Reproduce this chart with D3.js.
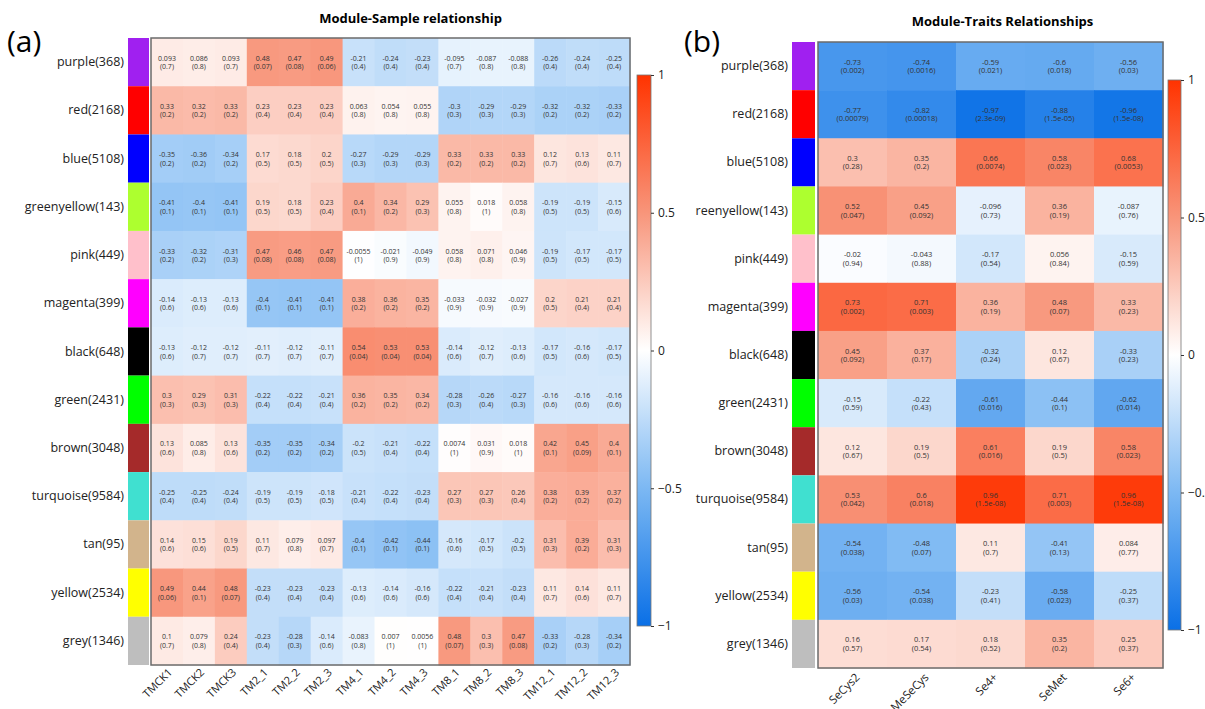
<!DOCTYPE html>
<html>
<head>
<meta charset="utf-8">
<script src="https://cdn.jsdelivr.net/npm/d3@7"></script>
<style>
  body { margin: 0; background: #fff; }
  text { font-family: "Open Sans", "Noto Sans", sans-serif; }
  .axis path, .axis line { stroke: none; }
  .cbar path { stroke: none; }
  .cbar line { stroke: #333; }
</style>
</head>
<body>
<svg id="chart" width="1205" height="709"></svg>
<script>
// ---- data ----
var modulesA = ["purple(368)", "red(2168)", "blue(5108)", "greenyellow(143)", "pink(449)", "magenta(399)",
  "black(648)", "green(2431)", "brown(3048)", "turquoise(9584)", "tan(95)", "yellow(2534)", "grey(1346)"];
var modulesB = ["purple(368)", "red(2168)", "blue(5108)", "reenyellow(143)", "pink(449)", "magenta(399)",
  "black(648)", "green(2431)", "brown(3048)", "turquoise(9584)", "tan(95)", "yellow(2534)", "grey(1346)"];
var moduleColors = ["#a020f0", "#ff0000", "#0000ff", "#adff2f", "#ffc0cb", "#ff00ff", "#000000",
  "#00ff00", "#a52a2a", "#40e0d0", "#d2b48c", "#ffff00", "#bebebe"];
var samples = ["TMCK1", "TMCK2", "TMCK3", "TM2_1", "TM2_2", "TM2_3", "TM4_1", "TM4_2", "TM4_3",
  "TM8_1", "TM8_2", "TM8_3", "TM12_1", "TM12_2", "TM12_3"];
var traits = ["SeCys2", "MeSeCys", "Se4+", "SeMet", "Se6+"];
var cbarTicks = [1, 0.5, 0, -0.5, -1];

var corA = [
  [0.093, 0.086, 0.093, 0.48, 0.47, 0.49, -0.21, -0.24, -0.23, -0.095, -0.087, -0.088, -0.26, -0.24, -0.25],
  [0.33, 0.32, 0.33, 0.23, 0.23, 0.23, 0.063, 0.054, 0.055, -0.3, -0.29, -0.29, -0.32, -0.32, -0.33],
  [-0.35, -0.36, -0.34, 0.17, 0.18, 0.2, -0.27, -0.29, -0.29, 0.33, 0.33, 0.33, 0.12, 0.13, 0.11],
  [-0.41, -0.4, -0.41, 0.19, 0.18, 0.23, 0.4, 0.34, 0.29, 0.055, 0.018, 0.058, -0.19, -0.19, -0.15],
  [-0.33, -0.32, -0.31, 0.47, 0.46, 0.47, -0.0055, -0.021, -0.049, 0.058, 0.071, 0.046, -0.19, -0.17, -0.17],
  [-0.14, -0.13, -0.13, -0.4, -0.41, -0.41, 0.38, 0.36, 0.35, -0.033, -0.032, -0.027, 0.2, 0.21, 0.21],
  [-0.13, -0.12, -0.12, -0.11, -0.12, -0.11, 0.54, 0.53, 0.53, -0.14, -0.12, -0.13, -0.17, -0.16, -0.17],
  [0.3, 0.29, 0.31, -0.22, -0.22, -0.21, 0.36, 0.35, 0.34, -0.28, -0.26, -0.27, -0.16, -0.16, -0.16],
  [0.13, 0.085, 0.13, -0.35, -0.35, -0.34, -0.2, -0.21, -0.22, 0.0074, 0.031, 0.018, 0.42, 0.45, 0.4],
  [-0.25, -0.25, -0.24, -0.19, -0.19, -0.18, -0.21, -0.22, -0.23, 0.27, 0.27, 0.26, 0.38, 0.39, 0.37],
  [0.14, 0.15, 0.19, 0.11, 0.079, 0.097, -0.4, -0.42, -0.44, -0.16, -0.17, -0.2, 0.31, 0.39, 0.31],
  [0.49, 0.44, 0.48, -0.23, -0.23, -0.23, -0.13, -0.14, -0.16, -0.22, -0.21, -0.23, 0.11, 0.14, 0.11],
  [0.1, 0.079, 0.24, -0.23, -0.28, -0.14, -0.083, 0.007, 0.0056, 0.48, 0.3, 0.47, -0.33, -0.28, -0.34]
];
var pA = [
  ["0.7", "0.8", "0.7", "0.07", "0.08", "0.06", "0.4", "0.4", "0.4", "0.7", "0.8", "0.8", "0.4", "0.4", "0.4"],
  ["0.2", "0.2", "0.2", "0.4", "0.4", "0.4", "0.8", "0.8", "0.8", "0.3", "0.3", "0.3", "0.2", "0.2", "0.2"],
  ["0.2", "0.2", "0.2", "0.5", "0.5", "0.5", "0.3", "0.3", "0.3", "0.2", "0.2", "0.2", "0.7", "0.6", "0.7"],
  ["0.1", "0.1", "0.1", "0.5", "0.5", "0.4", "0.1", "0.2", "0.3", "0.8", "1", "0.8", "0.5", "0.5", "0.6"],
  ["0.2", "0.2", "0.3", "0.08", "0.08", "0.08", "1", "0.9", "0.9", "0.8", "0.8", "0.9", "0.5", "0.5", "0.5"],
  ["0.6", "0.6", "0.6", "0.1", "0.1", "0.1", "0.2", "0.2", "0.2", "0.9", "0.9", "0.9", "0.5", "0.4", "0.4"],
  ["0.6", "0.7", "0.7", "0.7", "0.7", "0.7", "0.04", "0.04", "0.04", "0.6", "0.7", "0.6", "0.5", "0.6", "0.5"],
  ["0.3", "0.3", "0.3", "0.4", "0.4", "0.4", "0.2", "0.2", "0.2", "0.3", "0.4", "0.3", "0.6", "0.6", "0.6"],
  ["0.6", "0.8", "0.6", "0.2", "0.2", "0.2", "0.5", "0.4", "0.4", "1", "0.9", "1", "0.1", "0.09", "0.1"],
  ["0.4", "0.4", "0.4", "0.5", "0.5", "0.5", "0.4", "0.4", "0.4", "0.3", "0.3", "0.4", "0.2", "0.2", "0.2"],
  ["0.6", "0.6", "0.5", "0.7", "0.8", "0.7", "0.1", "0.1", "0.1", "0.6", "0.5", "0.5", "0.3", "0.2", "0.3"],
  ["0.06", "0.1", "0.07", "0.4", "0.4", "0.4", "0.6", "0.6", "0.6", "0.4", "0.4", "0.4", "0.7", "0.6", "0.7"],
  ["0.7", "0.8", "0.4", "0.4", "0.3", "0.6", "0.8", "1", "1", "0.07", "0.3", "0.08", "0.2", "0.3", "0.2"]
];

var corB = [
  [-0.73, -0.74, -0.59, -0.6, -0.56],
  [-0.77, -0.82, -0.97, -0.88, -0.96],
  [0.3, 0.35, 0.66, 0.58, 0.68],
  [0.52, 0.45, -0.096, 0.36, -0.087],
  [-0.02, -0.043, -0.17, 0.056, -0.15],
  [0.73, 0.71, 0.36, 0.48, 0.33],
  [0.45, 0.37, -0.32, 0.12, -0.33],
  [-0.15, -0.22, -0.61, -0.44, -0.62],
  [0.12, 0.19, 0.61, 0.19, 0.58],
  [0.53, 0.6, 0.96, 0.71, 0.96],
  [-0.54, -0.48, 0.11, -0.41, 0.084],
  [-0.56, -0.54, -0.23, -0.58, -0.25],
  [0.16, 0.17, 0.18, 0.35, 0.25]
];
var pB = [
  ["0.002", "0.0016", "0.021", "0.018", "0.03"],
  ["0.00079", "0.00018", "2.3e-09", "1.5e-05", "1.5e-08"],
  ["0.28", "0.2", "0.0074", "0.023", "0.0053"],
  ["0.047", "0.092", "0.73", "0.19", "0.76"],
  ["0.94", "0.88", "0.54", "0.84", "0.59"],
  ["0.002", "0.003", "0.19", "0.07", "0.23"],
  ["0.092", "0.17", "0.24", "0.67", "0.23"],
  ["0.59", "0.43", "0.016", "0.1", "0.014"],
  ["0.67", "0.5", "0.016", "0.5", "0.023"],
  ["0.042", "0.018", "1.5e-08", "0.003", "1.5e-08"],
  ["0.038", "0.07", "0.7", "0.13", "0.77"],
  ["0.03", "0.038", "0.41", "0.023", "0.37"],
  ["0.57", "0.54", "0.52", "0.2", "0.37"]
];

// ---- colour ----
var color = d3.scaleLinear()
  .domain([-1, -0.5, 0, 0.5, 1])
  .range(["#0a70e6", "#7cb8f3", "#ffffff", "#f8957a", "#ff3300"]);

var svg = d3.select("#chart");

var defs = svg.append("defs");
var grad = defs.append("linearGradient")
  .attr("id", "cgrad")
  .attr("x1", 0).attr("y1", 1).attr("x2", 0).attr("y2", 0);
d3.range(0, 1.0001, 0.05).forEach(function(t) {
  grad.append("stop")
    .attr("offset", t)
    .attr("stop-color", color(-1 + 2 * t));
});

function drawPanel(opt) {
  var g = svg.append("g");

  var x = d3.scaleBand().domain(opt.cols).range([opt.left, opt.right]);
  var y = d3.scaleBand().domain(opt.rows).range([opt.top, opt.bottom]);

  // panel letter + title
  g.append("text")
    .attr("x", opt.letterX).attr("y", 52)
    .style("font-size", "30px")
    .text(opt.letter);
  g.append("text")
    .attr("x", (opt.left + opt.right) / 2 + opt.titleDx).attr("y", opt.titleY)
    .attr("text-anchor", "middle")
    .style("font-size", "13px").style("font-weight", "bold")
    .text(opt.title);

  // module colour strip
  g.selectAll("rect.mod")
    .data(opt.rows)
    .enter().append("rect")
    .attr("class", "mod")
    .attr("x", opt.stripX)
    .attr("y", function(d) { return y(d); })
    .attr("width", opt.stripW)
    .attr("height", y.bandwidth())
    .attr("fill", function(d, i) { return moduleColors[i]; });

  // row labels
  g.append("g")
    .attr("class", "axis")
    .attr("transform", "translate(" + (opt.stripX - 2) + ",0)")
    .call(d3.axisLeft(y).tickSize(0).tickPadding(2))
    .selectAll("text")
    .style("font-size", "12.5px")
    .attr("fill", "#222");

  // cells
  var cells = [];
  opt.cor.forEach(function(row, i) {
    row.forEach(function(v, j) {
      cells.push({ r: opt.rows[i], c: opt.cols[j], v: v, p: opt.p[i][j] });
    });
  });

  var cell = g.selectAll("g.cell")
    .data(cells)
    .enter().append("g")
    .attr("class", "cell");

  cell.append("rect")
    .attr("x", function(d) { return x(d.c); })
    .attr("y", function(d) { return y(d.r); })
    .attr("width", x.bandwidth() + 0.5)
    .attr("height", y.bandwidth() + 0.5)
    .attr("fill", function(d) { return color(d.v); });

  cell.append("text")
    .attr("x", function(d) { return x(d.c) + x.bandwidth() / 2; })
    .attr("y", function(d) { return y(d.r) + y.bandwidth() / 2 - 1.5; })
    .attr("text-anchor", "middle")
    .style("font-size", opt.cellFont)
    .attr("fill", "#333")
    .text(function(d) { return d.v; });

  cell.append("text")
    .attr("x", function(d) { return x(d.c) + x.bandwidth() / 2; })
    .attr("y", function(d) { return y(d.r) + y.bandwidth() / 2 + 7; })
    .attr("text-anchor", "middle")
    .style("font-size", opt.cellFont)
    .attr("fill", "#333")
    .text(function(d) { return "(" + d.p + ")"; });

  // frame
  g.append("rect")
    .attr("x", opt.left).attr("y", opt.top)
    .attr("width", opt.right - opt.left).attr("height", opt.bottom - opt.top)
    .attr("fill", "none").attr("stroke", "#6b6b6b").attr("stroke-width", 1.5);

  // column labels
  g.append("g")
    .attr("class", "axis")
    .attr("transform", "translate(0," + opt.bottom + ")")
    .call(d3.axisBottom(x).tickSize(0).tickPadding(0))
    .selectAll("text")
    .style("font-size", opt.colFont)
    .attr("fill", "#222")
    .attr("text-anchor", "end")
    .attr("dy", 0)
    .attr("transform", "translate(" + opt.colDx + "," + opt.colDy + ") rotate(-45)");

  // colour bar
  var cy = d3.scaleLinear().domain([-1, 1]).range([opt.cbBottom, opt.cbTop]);
  g.append("rect")
    .attr("x", opt.cbX).attr("y", opt.cbTop)
    .attr("width", opt.cbW).attr("height", opt.cbBottom - opt.cbTop)
    .attr("fill", "url(#cgrad)")
    .attr("stroke", "#777").attr("stroke-width", 0.8);
  g.append("g")
    .attr("class", "cbar")
    .attr("transform", "translate(" + (opt.cbX + opt.cbW) + ",0)")
    .call(d3.axisRight(cy).tickValues(cbarTicks).tickSize(3).tickPadding(4).tickFormat(d3.format("")))
    .selectAll("text")
    .style("font-size", "12px")
    .attr("fill", "#222");
}

drawPanel({
  letter: "(a)", letterX: 7, title: "Module-Sample relationship", titleY: 23, titleDx: 20,
  rows: modulesA, cols: samples, cor: corA, p: pA,
  left: 151, right: 630, top: 38, bottom: 665,
  stripX: 128, stripW: 21,
  cellFont: "7px", colFont: "11px", colDx: 6, colDy: 8,
  cbX: 637, cbW: 14, cbTop: 75, cbBottom: 626
});

drawPanel({
  letter: "(b)", letterX: 684, title: "Module-Traits Relationships", titleY: 26, titleDx: 12,
  rows: modulesB, cols: traits, cor: corB, p: pB,
  left: 818, right: 1163, top: 42, bottom: 668,
  stripX: 792, stripW: 23,
  cellFont: "7.5px", colFont: "11.5px", colDx: 8, colDy: 10,
  cbX: 1168, cbW: 13, cbTop: 80, cbBottom: 630
});
</script>
</body>
</html>
